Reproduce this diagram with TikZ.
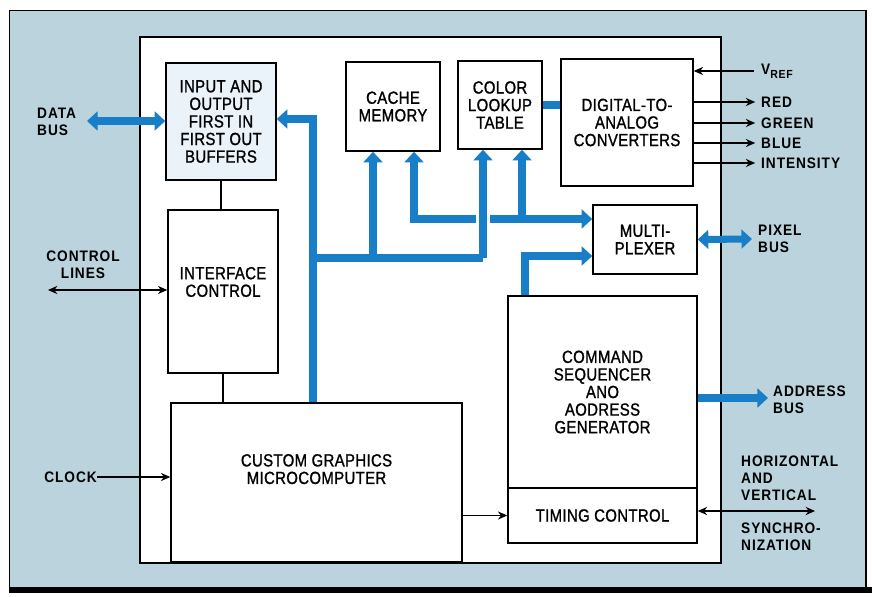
\documentclass[tikz,border=0pt]{standalone}
\usepackage{fontspec}
\setmainfont{Liberation Sans}
\newfontfamily\boxfont{Liberation Sans}[FakeStretch=0.85,LetterSpace=2,FakeBold=1.2]
\newfontfamily\lblfont{Liberation Sans}[FakeStretch=0.9,LetterSpace=6]
\usetikzlibrary{arrows.meta,positioning}
\definecolor{panelblue}{RGB}{186,211,220}
\definecolor{busblue}{RGB}{24,126,200}
\definecolor{fifofill}{RGB}{234,243,250}

\begin{document}
\begin{tikzpicture}[x=0.03cm,y=-0.03cm,>=Stealth,
  block/.style={draw,line width=1.3pt,fill=white,align=center,inner sep=2pt,font=\boxfont\fontsize{15}{15}\selectfont},
  lbl/.style={align=left,inner sep=0pt,font=\lblfont\bfseries\fontsize{13}{14.5}\selectfont},
  sig/.style={line width=1pt,-{Stealth[length=8pt,width=7pt]}},
  sigboth/.style={line width=1pt,{Stealth[length=8pt,width=7pt]}-{Stealth[length=8pt,width=7pt]}},
  bus/.style={draw=busblue,line width=6pt},
  busto/.style={bus,-{Triangle[length=9pt,width=16pt]}},
  busboth/.style={bus,{Triangle[length=9pt,width=16pt]}-{Triangle[length=9pt,width=16pt]}}]
\useasboundingbox (0,0) rectangle (872,597);
% panel and chip outline
\fill[panelblue] (9,10) rectangle (866,589);
\draw[line width=0.7pt] (9,589) -- (9,10) -- (866,10);
\draw[line width=1.6pt] (866,10) -- (866,590);
\draw[line width=4.5pt] (9,590) -- (872,590);
\draw[line width=1.3pt,fill=white] (140,37) rectangle (721,563);

% blocks
\node[block,fill=fifofill,minimum width=3.3cm,minimum height=3.51cm] (fifo) at (221,121.5) {INPUT AND\\OUTPUT\\FIRST IN\\FIRST OUT\\BUFFERS};
\node[block,minimum width=2.82cm,minimum height=2.67cm] (cache) at (393,106.5) {CACHE\\MEMORY};
\node[block,minimum width=2.52cm,minimum height=2.64cm] (clut) at (500,105) {COLOR\\LOOKUP\\TABLE};
\node[block,minimum width=3.96cm,minimum height=3.81cm] (dac) at (627,122.5) {DIGITAL-TO-\\ANALOG\\CONVERTERS};
\node[block,minimum width=3.12cm,minimum height=2.07cm] (mux) at (645,239.5) {MULTI-\\PLEXER};
\node[block,minimum width=3.3cm,minimum height=4.89cm] (ifc) at (223,291.5) {INTERFACE\\CONTROL\\[0.05cm]};
\node[block,minimum width=8.73cm,minimum height=4.77cm] (mcu) at (316.5,482.5) {CUSTOM GRAPHICS\\MICROCOMPUTER\\[0.28cm]};
\node[block,minimum width=5.67cm,minimum height=5.76cm] (cmd) at (602.5,392) {COMMAND\\SEQUENCER\\ANO\\AODRESS\\GENERATOR};
\node[block,minimum width=5.67cm,minimum height=1.65cm] (timing) at (602.5,515.5) {TIMING CONTROL};

% outside labels
\node[lbl,anchor=west] (databus) at (37,122) {DATA\\BUS};
\node[lbl,align=center] (ctrllines) at (83,265) {CONTROL\\LINES};
\node[lbl,anchor=east] (clock) at (97,477) {CLOCK};
\node[lbl,anchor=west] (vref) at (761,71) {V\raisebox{-0.45ex}{\fontsize{10}{10}\selectfont REF}};
\node[lbl,anchor=west] (red) at (761,102) {RED};
\node[lbl,anchor=west] (green) at (761,123) {GREEN};
\node[lbl,anchor=west] (blue) at (761,143) {BLUE};
\node[lbl,anchor=west] (inten) at (761,163) {INTENSITY};
\node[lbl,anchor=west] (pixbus) at (758,239) {PIXEL\\BUS};
\node[lbl,anchor=west] (addrbus) at (773,400) {ADDRESS\\BUS};
\node[lbl,anchor=west] (hv) at (741,478) {HORIZONTAL\\AND\\VERTICAL};
\node[lbl,anchor=west] (sync) at (741,537) {SYNCHRO-\\NIZATION};

% bus junctions
\coordinate (dbin) at (87,121);
\coordinate (jfifo) at (313,119);
\coordinate (jlow) at (313,258);
\coordinate (jcache) at (373,258);
\coordinate (jclut) at (483,258);
\coordinate (kcache) at (414,219);
\coordinate (kclut) at (522,219);
\coordinate (gapL) at (476,219);
\coordinate (gapR) at (490,219);
\coordinate (kmux) at (525,256);
\coordinate (pbend) at (752,239);
\coordinate (abend) at (768,398);

% blue buses
\draw[busboth] (dbin) -- (fifo.west |- dbin);
\draw[busto] (mcu.north -| jlow) -- (jfifo) -- (fifo.east |- jfifo);
\draw[bus] (jlow) -- (jclut);
\draw[busto] (jcache) -- (jcache |- cache.south);
\draw[busto] (jclut) -- (jclut |- clut.south);
\draw[busto] (gapL) -- (kcache) -- (kcache |- cache.south);
\draw[busto] (gapR) -- (mux.west |- gapR);
\draw[busto] (kclut) -- (kclut |- clut.south);
\draw[busto] (cmd.north -| kmux) -- (kmux) -- (mux.west |- kmux);
\draw[bus] (clut.east) -- (dac.west |- clut.east);
\draw[busboth] (mux.east) -- (pbend);
\draw[busto] (cmd.east |- abend) -- (abend);

% control signals
\coordinate (clend) at (48,290);
\coordinate (hvend) at (815,511);
\draw[line width=1pt] (fifo.south) -- (fifo.south |- ifc.north);
\draw[line width=1pt] (ifc.south) -- (ifc.south |- mcu.north);
\draw[sigboth] (clend) -- (ifc.west |- clend);
\draw[sig] (clock.east) -- (mcu.west |- clock.east);
\draw[sig] (mcu.east |- timing.west) -- (timing.west);
\draw[sigboth] (timing.east |- hvend) -- (hvend);
\draw[sig,shorten <=6pt] (vref.west) -- (dac.east |- vref.west);
\draw[sig,shorten >=5pt] (dac.east |- red.west) -- (red.west);
\draw[sig,shorten >=5pt] (dac.east |- green.west) -- (green.west);
\draw[sig,shorten >=5pt] (dac.east |- blue.west) -- (blue.west);
\draw[sig,shorten >=5pt] (dac.east |- inten.west) -- (inten.west);
\end{tikzpicture}
\end{document}
